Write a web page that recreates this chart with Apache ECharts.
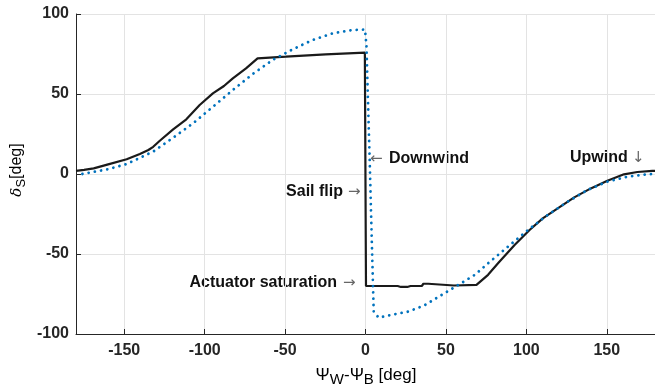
<!DOCTYPE html>
<html><head><meta charset="utf-8">
<script src="https://cdn.jsdelivr.net/npm/echarts@6/dist/echarts.min.js"></script>
<style>html,body{margin:0;padding:0;background:#fff}#c{width:655px;height:388px}</style>
</head><body><div id="c"></div>
<script>
// Tick labels
const xTicks = [-150, -100, -50, 0, 50, 100, 150];
const yTicks = [-100, -50, 0, 50, 100];

// Black solid curve (actual sail angle)
const blackX = [-180, -175, -169, -160, -148.5, -140.3, -135, -132, -127.9, -119.6, -111.4, -103.1, -94.9, -88, -82.5, -74.3, -67.1, -49.5, -24.8, -0.4,
  0.3, 10, 20, 22, 26, 28, 35, 36, 39, 40, 55, 69, 76.2, 82.4, 92.7, 102, 110.2, 119.5, 129.8, 140.1, 150.4, 160.7, 169, 178.3, 180];
const blackY = [2, 2.6, 3.5, 6, 9.2, 12.5, 15, 17, 20.8, 27.9, 34.2, 43.1, 50.4, 55, 59.8, 66, 72.3, 73.3, 74.8, 75.8,
  -70, -70, -70, -70.6, -70.6, -70, -70, -68.6, -68.6, -69.8, -69.7, -69.3, -63, -55.8, -44.4, -35, -27.7, -21.5, -14.6, -9, -4.2, -0.2, 1.25, 1.9, 2];

// Blue dotted curve (reference sail angle)
const blueX = [-176, -168, -160, -148.5, -132, -119.6, -107.2, -94.9, -82.5, -70.1, -57.7, -45.3, -32.9, -20.5, -8.1, -0.3,
  0.6, 1.4, 2.6, 3.4, 4.5, 5.1, 8.2, 16.4, 26.7, 37, 47.3, 57.6, 68, 76.2, 88.6, 101, 113.3, 125.7, 138, 150.4, 162.8, 175.2, 180];
const blueY = [0, 1.5, 3, 6.25, 14, 22.7, 31.7, 42, 52.5, 62.5, 71.3, 77.9, 83.75, 87.9, 90, 90.3,
  80, 50.4, 8.75, -22.5, -64, -86, -89.8, -88, -86, -81.9, -75.6, -69.4, -63, -55.8, -45.4, -35, -25.6, -17.3, -10, -4.8, -1.7, -0.2, 0];

const pair = (xs, ys) => xs.map((x, i) => [x, ys[i]]);

const chart = echarts.init(document.getElementById('c'), null, { renderer: 'canvas' });
const axisCol = '#262626';
const gridCol = '#e3e3e3';
const tickFont = { color: axisCol, fontFamily: 'Liberation Sans', fontWeight: 'bold', fontSize: 16 };
const annFont = 'bold 16px "Liberation Sans"';

chart.setOption({
  animation: false,
  backgroundColor: '#fff',
  grid: { left: 76, top: 14, width: 582, height: 320, containLabel: false },
  xAxis: {
    type: 'value', min: -180, max: 180,
    axisLine: { show: true, onZero: false, lineStyle: { color: axisCol, width: 1 } },
    axisTick: { show: true, inside: true, length: 5, customValues: xTicks, lineStyle: { color: axisCol } },
    axisLabel: Object.assign({ customValues: xTicks, margin: 9 }, tickFont),
    splitLine: { show: true, lineStyle: { color: gridCol, width: 1 } }
  },
  yAxis: {
    type: 'value', min: -100, max: 100, interval: 50,
    axisLine: { show: true, onZero: false, lineStyle: { color: axisCol, width: 1 } },
    axisTick: { show: true, inside: true, length: 5, lineStyle: { color: axisCol } },
    axisLabel: Object.assign({ margin: 7 }, tickFont),
    splitLine: { show: true, lineStyle: { color: gridCol, width: 1 } }
  },
  series: [
    { type: 'line', data: pair(blackX, blackY), showSymbol: false, symbol: 'none', clip: false,
      lineStyle: { color: '#1a1a1a', width: 2.2 } },
    { type: 'line', data: pair(blueX, blueY), showSymbol: false, symbol: 'none', clip: false, z: 3,
      lineStyle: { color: '#0072BD', width: 2.8, type: [0.01, 6.3], cap: 'round' } }
  ],
  graphic: [
    { type: 'text', x: 17, y: 170, rotation: Math.PI / 2,
      style: { text: '{d|δ}{s|S}{n|[deg]}', align: 'center', verticalAlign: 'middle',
        rich: {
          d: { fontFamily: 'DejaVu Serif', fontStyle: 'italic', fontSize: 15, color: axisCol, lineHeight: 22, verticalAlign: 'middle' },
          s: { fontFamily: 'Liberation Sans', fontSize: 13, color: axisCol, lineHeight: 22, verticalAlign: 'bottom' },
          n: { fontFamily: 'Liberation Sans', fontSize: 16, color: axisCol, lineHeight: 22, verticalAlign: 'middle' }
        } } },
    { type: 'text', x: 366, y: 375,
      style: { text: '{p|Ψ}{s|W}{p|-Ψ}{s|B}{p| [deg]}', align: 'center', verticalAlign: 'middle',
        rich: {
          p: { fontFamily: 'Liberation Sans', fontSize: 17, color: axisCol, lineHeight: 24, verticalAlign: 'middle' },
          s: { fontFamily: 'Liberation Sans', fontSize: 15, color: axisCol, lineHeight: 24, verticalAlign: 'bottom' }
        } } },
    { type: 'text', x: 370, y: 159, style: { text: '←', font: '15px "DejaVu Sans"', fill: '#666', verticalAlign: 'middle' } },
    { type: 'text', x: 389, y: 159, style: { text: 'Downwind', font: annFont, fill: '#111', verticalAlign: 'middle' } },
    { type: 'text', x: 343, y: 192, style: { text: 'Sail flip', font: annFont, fill: '#111', align: 'right', verticalAlign: 'middle' } },
    { type: 'text', x: 348, y: 192, style: { text: '→', font: '15px "DejaVu Sans"', fill: '#666', verticalAlign: 'middle' } },
    { type: 'text', x: 337, y: 283, style: { text: 'Actuator saturation', font: annFont, fill: '#111', align: 'right', verticalAlign: 'middle' } },
    { type: 'text', x: 343, y: 283, style: { text: '→', font: '15px "DejaVu Sans"', fill: '#666', verticalAlign: 'middle' } },
    { type: 'text', x: 570, y: 158, style: { text: 'Upwind', font: annFont, fill: '#111', verticalAlign: 'middle' } },
    { type: 'text', x: 632, y: 158, style: { text: '↓', font: '15px "DejaVu Sans"', fill: '#666', verticalAlign: 'middle' } }
  ]
});
</script>
</body></html>
